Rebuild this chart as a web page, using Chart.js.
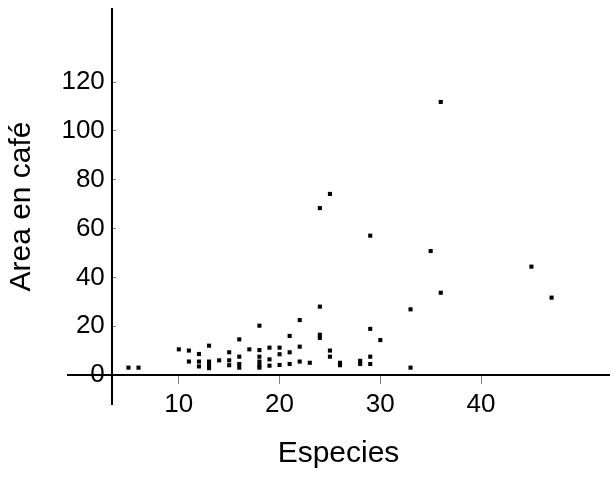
<!DOCTYPE html>
<html>
<head>
<meta charset="utf-8">
<script src="https://cdn.jsdelivr.net/npm/chart.js@4.4.0/dist/chart.umd.min.js"></script>
<style>
  html, body { margin: 0; padding: 0; background: #fff; }
  #wrap { width: 613px; height: 486px; }
</style>
</head>
<body>
<div id="wrap"><canvas id="scatterChart"></canvas></div>
<script>
// data
const especies = [
    5, 6, 10, 11, 11, 12, 12, 12, 13, 13, 13, 13, 14, 15, 15, 15,
    16, 16, 16, 16, 17, 18, 18, 18, 18, 18, 18, 19, 19, 19, 20, 20, 20,
    21, 21, 21, 22, 22, 22, 23, 24, 24, 24, 24, 25, 25, 25, 26, 26,
    28, 28, 29, 29, 29, 29, 30, 33, 33, 35, 36, 36, 45, 47
];
const areaCafe = [
    3, 3, 10.5, 10, 5.5, 8.6, 5.5, 3.5, 12, 5.5, 4, 2.8, 6, 9.3, 6, 4,
    14.6, 7.5, 4.5, 3, 10.5, 20.2, 10.2, 7.5, 5.5, 4, 3, 11.2, 6.4, 3.8, 11.2, 8.5, 4.1,
    16, 9.3, 4.5, 22.5, 11.6, 5.5, 5, 68.4, 28, 16.5, 15.2, 74.2, 10, 7.5, 5, 4,
    5.8, 4.5, 57.1, 18.9, 7.5, 4.5, 14.3, 26.9, 3, 50.8, 111.9, 33.7, 44.4, 31.7
];
const xTicks = [10, 20, 30, 40];
const yTicks = [0, 20, 40, 60, 80, 100, 120];

const fontFamily = '"Liberation Sans", Arial, sans-serif';

const points = especies.map((x, i) => ({ x: x, y: areaCafe[i] }));

new Chart(document.getElementById('scatterChart'), {
    type: 'scatter',
    data: {
        datasets: [{
            label: 'Area en café',
            data: points,
            pointStyle: 'rect',
            pointRadius: 2.9,
            pointBorderWidth: 0,
            backgroundColor: '#000',
            borderColor: '#000'
        }]
    },
    options: {
        responsive: true,
        maintainAspectRatio: false,
        animation: false,
        layout: {
            padding: { top: 9, right: 3, bottom: 0, left: 0 }
        },
        scales: {
            x: {
                type: 'linear',
                min: -1,
                max: 52.7,
                position: { y: 0 },
                afterBuildTicks: axis => {
                    axis.ticks = xTicks.map(v => ({ value: v }));
                },
                grid: {
                    drawOnChartArea: false,
                    color: '#808080',
                    tickLength: 8,
                    lineWidth: 1
                },
                border: { color: '#000', width: 2 },
                ticks: {
                    color: '#000',
                    padding: 6,
                    maxRotation: 0,
                    autoSkip: false,
                    font: { family: fontFamily, size: 26 }
                }
            },
            y: {
                type: 'linear',
                min: -11.9,
                max: 150,
                position: { x: 3.37 },
                afterBuildTicks: axis => {
                    axis.ticks = yTicks.map(v => ({ value: v }));
                },
                // the axis sits inside the plot, so its labels need no extra room
                afterFit: axis => {
                    axis.paddingTop = 0;
                    axis.paddingBottom = 0;
                },
                grid: {
                    drawOnChartArea: false,
                    color: '#808080',
                    tickLength: -5,
                    lineWidth: 1
                },
                border: { color: '#000', width: 2 },
                ticks: {
                    color: '#000',
                    padding: 0,
                    autoSkip: false,
                    // trailing space keeps the labels off the axis line
                    callback: value => value + ' ',
                    font: { family: fontFamily, size: 26 }
                }
            }
        },
        plugins: {
            legend: { display: false },
            tooltip: { enabled: false },
            title: {
                display: true,
                text: 'Area en café',
                position: 'left',
                fullSize: false,
                color: '#000',
                font: { family: fontFamily, size: 30, weight: 'normal' },
                padding: { top: 4, bottom: 28 }
            },
            subtitle: {
                display: true,
                text: 'Especies',
                position: 'bottom',
                fullSize: false,
                color: '#000',
                font: { family: fontFamily, size: 30, weight: 'normal' },
                padding: { top: 32, bottom: 14 }
            }
        }
    }
});
</script>
</body>
</html>
